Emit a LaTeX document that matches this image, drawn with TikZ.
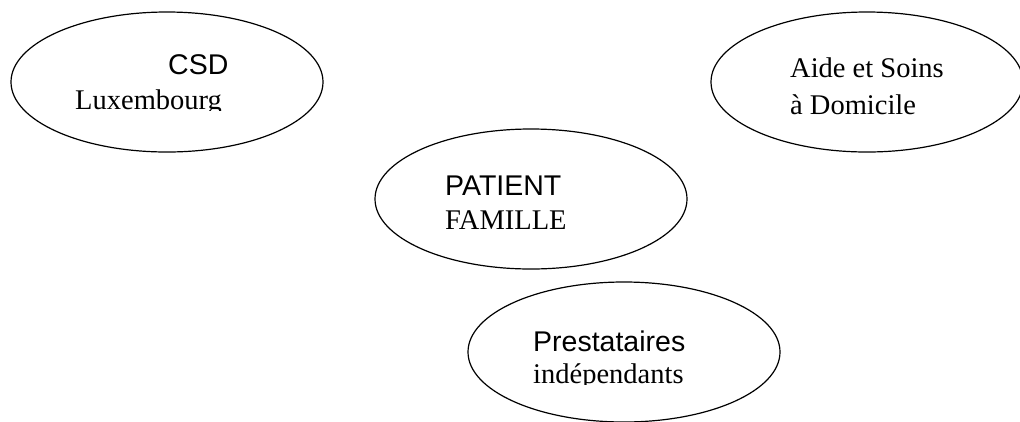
\documentclass[tikz,border=0pt]{standalone}
\usepackage{fontspec}
\setmainfont{Liberation Serif}
\newfontfamily\arialf{Liberation Sans}
\usetikzlibrary{shapes.geometric}
\tikzset{
  oval/.style={ellipse, draw=black, line width=1.2pt, minimum width=312pt, minimum height=140pt, inner sep=0pt},
  sanslabel/.style={anchor=base west, inner sep=0pt, font=\arialf\fontsize{28.5}{30}\selectfont},
  seriflabel/.style={anchor=base west, inner sep=0pt, font=\rmfamily\fontsize{28.5}{30}\selectfont}
}
\begin{document}
\begin{tikzpicture}[x=1pt,y=-1pt]
\useasboundingbox (0,0) rectangle (1020,421);
\node[oval] (csd) at (167,82) {};
\node[oval] (asd) at (867,82) {};
\node[oval] (pat) at (531,199) {};
\node[oval] (pre) at (624,352) {};
% CSD Luxembourg
\node[sanslabel] (csdA) at (168,74) {CSD};
\begin{scope}
\clip (60,80) rectangle (260,110.5);
\node[seriflabel] (csdB) at (75,109) {Luxembourg};
\end{scope}
% Aide et Soins
\node[seriflabel] (asdA) at (790,77) {Aide et Soins};
\begin{scope}
\clip (780,85) rectangle (960,115.5);
\node[seriflabel] (asdB) at (790,114) {à Domicile};
\end{scope}
% Patient
\node[sanslabel] (patA) at (445,195.5) {PATIENT};
\node[seriflabel] (patB) at (445,229) {FAMILLE};
% Prestataires
\node[sanslabel] (preA) at (533,351.5) {Prestataires};
\begin{scope}
\clip (520,358) rectangle (700,384.5);
\node[seriflabel] (preB) at (533,383) {indépendants};
\end{scope}
\end{tikzpicture}
\end{document}
